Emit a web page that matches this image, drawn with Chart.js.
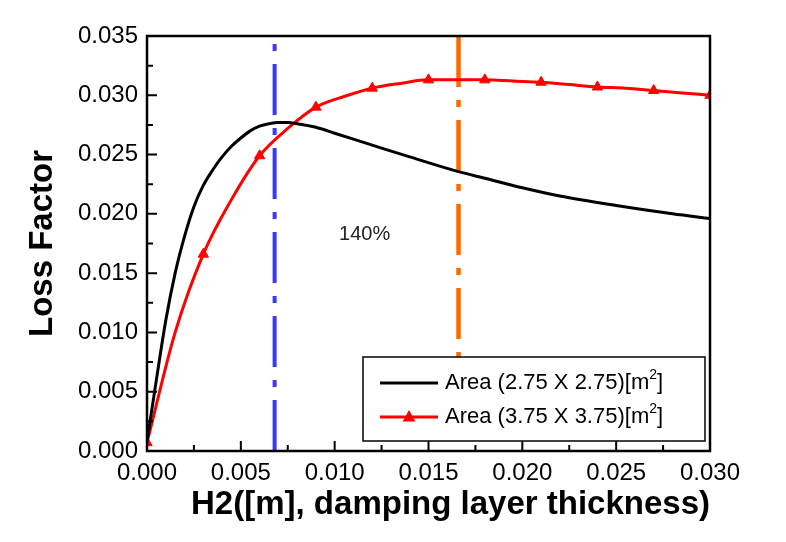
<!DOCTYPE html>
<html>
<head>
<meta charset="utf-8">
<script src="https://cdn.jsdelivr.net/npm/chart.js@4.4.0/dist/chart.umd.min.js"></script>
<style>
  html, body { margin: 0; padding: 0; background: #fff; }
</style>
</head>
<body>
<canvas id="grafico" width="786" height="542"></canvas>
<script>
// black curve, Area 2.75 x 2.75
const blackX = [0, 0.0005, 0.001, 0.0015, 0.002, 0.0025, 0.003, 0.0035, 0.004, 0.0045, 0.005, 0.0055, 0.006, 0.0065, 0.007, 0.0075, 0.008, 0.009, 0.010, 0.012, 0.014, 0.0165, 0.018, 0.020, 0.022, 0.025, 0.028, 0.030];
const blackY = [0.0008, 0.0060, 0.0110, 0.0150, 0.0181, 0.0206, 0.0224, 0.0237, 0.0248, 0.0257, 0.0264, 0.0270, 0.0274, 0.0276, 0.0277, 0.0277, 0.0276, 0.0273, 0.0268, 0.0258, 0.0248, 0.0236, 0.0230, 0.0222, 0.0215, 0.0207, 0.0200, 0.0196];

// red curve, Area 3.75 x 3.75 (triangles every other point)
const redX = [0, 0.0015, 0.003, 0.0045, 0.006, 0.0075, 0.009, 0.0105, 0.012, 0.0135, 0.015, 0.0165, 0.018, 0.0195, 0.021, 0.0225, 0.024, 0.0255, 0.027, 0.0285, 0.030];
const redY = [0.0007, 0.0100, 0.0166, 0.0212, 0.0249, 0.0272, 0.0290, 0.0299, 0.0306, 0.0310, 0.0313, 0.0313, 0.0313, 0.0312, 0.0311, 0.0309, 0.0307, 0.0306, 0.0304, 0.0302, 0.0300];

const seriesNames = ['Area (2.75 X 2.75)[m²]', 'Area (3.75 X 3.75)[m²]'];

// vertical dash-dot markers
const blueLineX = 0.0068;
const blueLineY = [0, 0.0345];
const orangeLineX = 0.0166;
const orangeLineY = [0.035, 0.0079];

const noteText = '140%';
const noteX = 0.0116;
const noteY = 0.0183;

const fam = '"Liberation Sans", Arial, sans-serif';

function pts(xs, ys) {
    return xs.map((v, i) => ({ x: v, y: ys[i] }));
}

const ticksInside = {
    id: 'ticksInside',
    afterDatasetsDraw(chart) {
        const { ctx, chartArea: a, scales: { x, y } } = chart;
        ctx.save();
        ctx.strokeStyle = '#000';
        ctx.lineWidth = 2;
        ctx.beginPath();
        for (let i = 0; i <= 12; i++) {
            let px = x.getPixelForValue(i * 0.0025);
            let len = i % 2 == 0 ? 10 : 6;
            ctx.moveTo(px, a.bottom);
            ctx.lineTo(px, a.bottom - len);
        }
        for (let i = 0; i <= 14; i++) {
            let py = y.getPixelForValue(i * 0.0025);
            let len = i % 2 == 0 ? 10 : 6;
            ctx.moveTo(a.left, py);
            ctx.lineTo(a.left + len, py);
        }
        ctx.stroke();

        // note text
        ctx.fillStyle = '#222';
        ctx.font = '20px ' + fam;
        ctx.textAlign = 'center';
        ctx.textBaseline = 'middle';
        ctx.fillText(noteText, x.getPixelForValue(noteX), y.getPixelForValue(noteY));

        // legend box
        const L = 363, T = 357, R = 705, B = 441;
        ctx.fillStyle = '#fff';
        ctx.fillRect(L, T, R - L, B - T);
        ctx.lineWidth = 1.5;
        ctx.strokeStyle = '#000';
        ctx.strokeRect(L, T, R - L, B - T);

        const rows = [383, 417];
        const cols = ['#000', '#ff0000'];
        for (let k = 0; k < 2; k++) {
            let ry = rows[k];
            ctx.strokeStyle = cols[k];
            ctx.lineWidth = 3;
            ctx.beginPath();
            ctx.moveTo(380, ry);
            ctx.lineTo(438, ry);
            ctx.stroke();
            if (k == 1) {
                ctx.fillStyle = '#ff0000';
                ctx.beginPath();
                ctx.moveTo(409, ry - 7);
                ctx.lineTo(415.5, ry + 4.5);
                ctx.lineTo(402.5, ry + 4.5);
                ctx.closePath();
                ctx.fill();
            }
            let parts = seriesNames[k].split('²');
            ctx.fillStyle = '#000';
            ctx.textAlign = 'left';
            ctx.textBaseline = 'middle';
            ctx.font = '22px ' + fam;
            let tx = 445;
            ctx.fillText(parts[0], tx, ry);
            tx += ctx.measureText(parts[0]).width;
            ctx.font = '14px ' + fam;
            ctx.fillText('2', tx, ry - 8);
            tx += ctx.measureText('2').width;
            ctx.font = '22px ' + fam;
            ctx.fillText(parts[1], tx, ry);
        }

        // frame
        ctx.lineWidth = 2.5;
        ctx.strokeStyle = '#000';
        ctx.strokeRect(a.left, a.top, a.right - a.left, a.bottom - a.top);
        ctx.restore();
    }
};

const config = {
    type: 'line',
    data: {
        datasets: [
            {
                label: seriesNames[0],
                data: pts(blackX, blackY),
                borderColor: '#000',
                borderWidth: 3,
                pointRadius: 0,
                cubicInterpolationMode: 'monotone',
                fill: false
            },
            {
                label: seriesNames[1],
                data: pts(redX, redY),
                borderColor: '#ff0000',
                backgroundColor: '#ff0000',
                borderWidth: 3,
                pointStyle: 'triangle',
                pointRadius: c => c.dataIndex % 2 == 0 ? 6 : 0,
                pointBorderWidth: 1,
                cubicInterpolationMode: 'monotone',
                fill: false
            },
            {
                label: 'blue',
                data: blueLineY.map(v => ({ x: blueLineX, y: v })),
                borderColor: '#3838ff',
                borderWidth: 4,
                borderDash: [51, 13, 7, 13],
                pointRadius: 0,
                fill: false
            },
            {
                label: 'orange',
                data: orangeLineY.map(v => ({ x: orangeLineX, y: v })),
                borderColor: '#ff6a00',
                borderWidth: 4.5,
                borderDash: [51, 13, 7, 13],
                pointRadius: 0,
                fill: false
            }
        ]
    },
    options: {
        responsive: false,
        animation: false,
        layout: { padding: { left: 0, right: 76, top: 36, bottom: 0 } },
        plugins: {
            legend: { display: false },
            tooltip: { enabled: false }
        },
        scales: {
            x: {
                type: 'linear',
                min: 0,
                max: 0.03,
                grid: { display: false },
                border: { display: false },
                ticks: {
                    stepSize: 0.005,
                    padding: 0,
                    color: '#000',
                    maxRotation: 0,
                    autoSkip: false,
                    font: { size: 24, family: fam },
                    callback: v => Number(v).toFixed(3)
                },
                title: {
                    display: true,
                    text: 'H2([m], damping layer thickness)',
                    align: 'end',
                    color: '#000',
                    font: { size: 33, weight: 'bold', family: fam },
                    padding: { top: 0, bottom: 17 }
                },
                afterFit(s) { s.height = 91; }
            },
            y: {
                min: 0,
                max: 0.035,
                grid: { display: false },
                border: { display: false },
                ticks: {
                    stepSize: 0.005,
                    padding: 1,
                    color: '#000',
                    font: { size: 24, family: fam },
                    callback: v => Number(v).toFixed(3)
                },
                title: {
                    display: true,
                    text: 'Loss Factor',
                    color: '#000',
                    font: { size: 33, weight: 'bold', family: fam },
                    padding: { top: 23, bottom: 0 }
                },
                afterFit(s) { s.width = 147; }
            }
        }
    },
    plugins: [ticksInside]
};

const myChart = new Chart(document.getElementById('grafico'), config);
</script>
</body>
</html>
